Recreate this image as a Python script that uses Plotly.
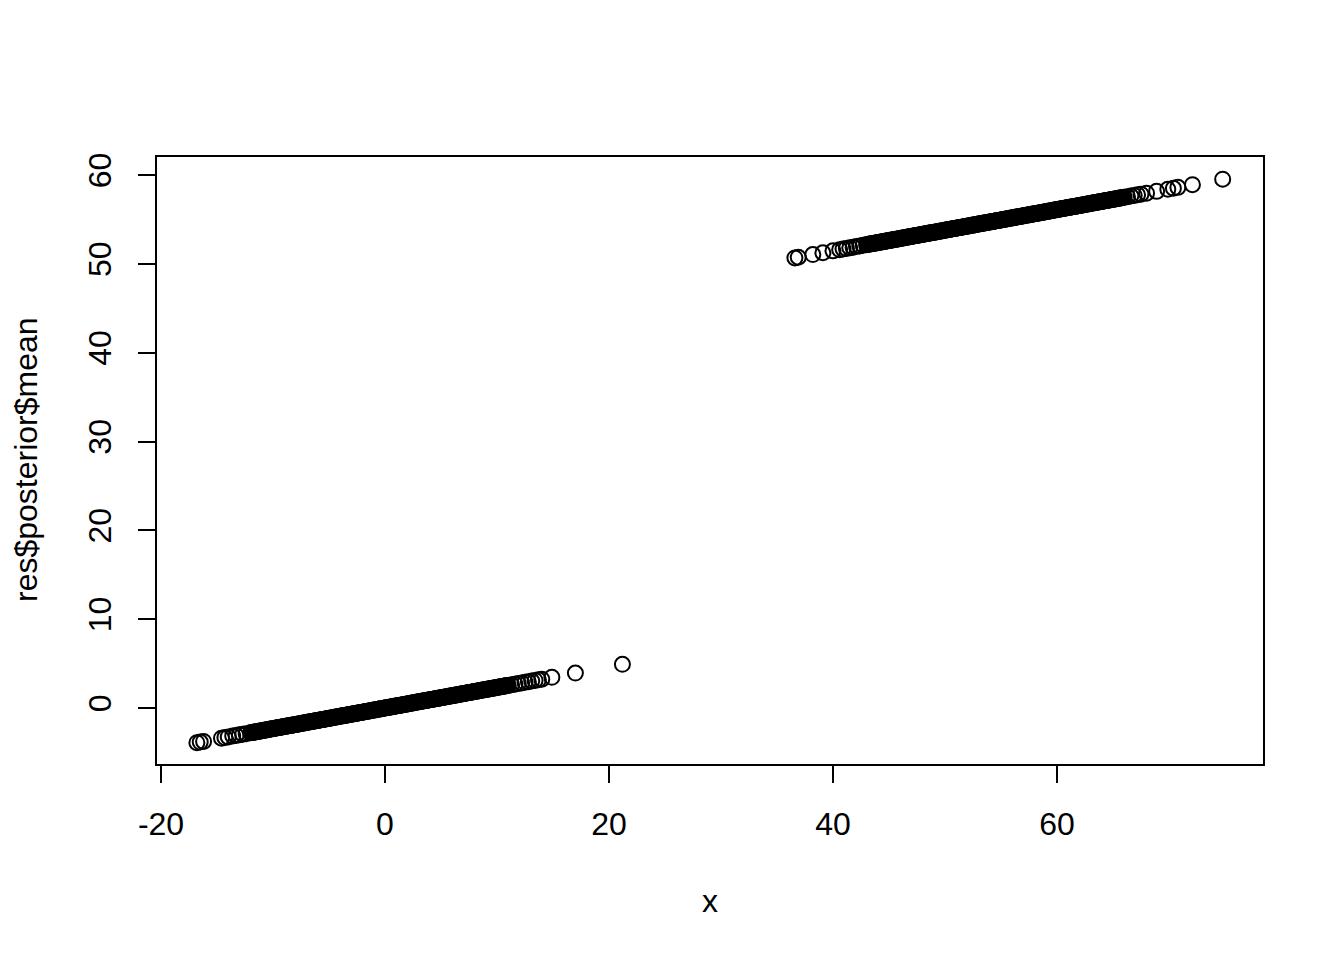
import plotly.graph_objects as go

# ---- Lower cluster (values read/estimated from the picture) ----
x_low = [-16.8, -16.5, -16.2, -14.6, -14.3, -14.0, -13.6, -13.3, -13.0, -12.7, -12.4,
         -12.0, -11.8, -11.6, -11.4, -11.2, -11.0, -10.8, -10.6, -10.4, -10.2,
         -10.0, -9.8, -9.6, -9.4, -9.2, -9.0, -8.8, -8.6, -8.4, -8.2,
         -8.0, -7.8, -7.6, -7.4, -7.2, -7.0, -6.8, -6.6, -6.4, -6.2,
         -6.0, -5.8, -5.6, -5.4, -5.2, -5.0, -4.8, -4.6, -4.4, -4.2,
         -4.0, -3.8, -3.6, -3.4, -3.2, -3.0, -2.8, -2.6, -2.4, -2.2,
         -2.0, -1.8, -1.6, -1.4, -1.2, -1.0, -0.8, -0.6, -0.4, -0.2,
         0.0, 0.2, 0.4, 0.6, 0.8, 1.0, 1.2, 1.4, 1.6, 1.8,
         2.0, 2.2, 2.4, 2.6, 2.8, 3.0, 3.2, 3.4, 3.6, 3.8,
         4.0, 4.2, 4.4, 4.6, 4.8, 5.0, 5.2, 5.4, 5.6, 5.8,
         6.0, 6.2, 6.4, 6.6, 6.8, 7.0, 7.2, 7.4, 7.6, 7.8,
         8.0, 8.2, 8.4, 8.6, 8.8, 9.0, 9.2, 9.4, 9.6, 9.8,
         10.0, 10.2, 10.4, 10.6, 10.8, 11.0,
         11.3, 11.6, 11.9, 12.2, 12.5, 12.8, 13.1, 13.4, 13.7, 14.0,
         14.9, 17.0, 21.2]
y_low = [-3.90, -3.83, -3.76, -3.39, -3.32, -3.25, -3.16, -3.09, -3.02, -2.95, -2.88,
         -2.78, -2.74, -2.69, -2.64, -2.60, -2.55, -2.51, -2.46, -2.41, -2.37,
         -2.32, -2.27, -2.23, -2.18, -2.13, -2.09, -2.04, -2.00, -1.95, -1.90,
         -1.86, -1.81, -1.76, -1.72, -1.67, -1.62, -1.58, -1.53, -1.48, -1.44,
         -1.39, -1.35, -1.30, -1.25, -1.21, -1.16, -1.11, -1.07, -1.02, -0.97,
         -0.93, -0.88, -0.84, -0.79, -0.74, -0.70, -0.65, -0.60, -0.56, -0.51,
         -0.46, -0.42, -0.37, -0.32, -0.28, -0.23, -0.19, -0.14, -0.09, -0.05,
         0.00, 0.05, 0.09, 0.14, 0.19, 0.23, 0.28, 0.32, 0.37, 0.42,
         0.46, 0.51, 0.56, 0.60, 0.65, 0.70, 0.74, 0.79, 0.84, 0.88,
         0.93, 0.97, 1.02, 1.07, 1.11, 1.16, 1.21, 1.25, 1.30, 1.35,
         1.39, 1.44, 1.48, 1.53, 1.58, 1.62, 1.67, 1.72, 1.76, 1.81,
         1.86, 1.90, 1.95, 2.00, 2.04, 2.09, 2.13, 2.18, 2.23, 2.27,
         2.32, 2.37, 2.41, 2.46, 2.51, 2.55,
         2.62, 2.69, 2.76, 2.83, 2.90, 2.97, 3.04, 3.11, 3.18, 3.25,
         3.46, 3.94, 4.92]

# further points in the solid (dense) part of the lower band
x_low_dense = [-11.9, -11.7, -11.5, -11.3, -11.1, -10.9, -10.7, -10.5, -10.3, -10.1,
               -9.9, -9.7, -9.5, -9.3, -9.1, -8.9, -8.7, -8.5, -8.3, -8.1,
               -7.9, -7.7, -7.5, -7.3, -7.1, -6.9, -6.7, -6.5, -6.3, -6.1,
               -5.9, -5.7, -5.5, -5.3, -5.1, -4.9, -4.7, -4.5, -4.3, -4.1,
               -3.9, -3.7, -3.5, -3.3, -3.1, -2.9, -2.7, -2.5, -2.3, -2.1,
               -1.9, -1.7, -1.5, -1.3, -1.1, -0.9, -0.7, -0.5, -0.3, -0.1,
               0.1, 0.3, 0.5, 0.7, 0.9, 1.1, 1.3, 1.5, 1.7, 1.9,
               2.1, 2.3, 2.5, 2.7, 2.9, 3.1, 3.3, 3.5, 3.7, 3.9,
               4.1, 4.3, 4.5, 4.7, 4.9, 5.1, 5.3, 5.5, 5.7, 5.9,
               6.1, 6.3, 6.5, 6.7, 6.9, 7.1, 7.3, 7.5, 7.7, 7.9,
               8.1, 8.3, 8.5, 8.7, 8.9, 9.1, 9.3, 9.5, 9.7, 9.9,
               10.1, 10.3, 10.5, 10.7, 10.9]
y_low_dense = [-2.76, -2.71, -2.67, -2.62, -2.58, -2.53, -2.48, -2.44, -2.39, -2.34,
               -2.30, -2.25, -2.20, -2.16, -2.11, -2.06, -2.02, -1.97, -1.93, -1.88,
               -1.83, -1.79, -1.74, -1.69, -1.65, -1.60, -1.55, -1.51, -1.46, -1.42,
               -1.37, -1.32, -1.28, -1.23, -1.18, -1.14, -1.09, -1.04, -1.00, -0.95,
               -0.90, -0.86, -0.81, -0.77, -0.72, -0.67, -0.63, -0.58, -0.53, -0.49,
               -0.44, -0.39, -0.35, -0.30, -0.26, -0.21, -0.16, -0.12, -0.07, -0.02,
               0.02, 0.07, 0.12, 0.16, 0.21, 0.26, 0.30, 0.35, 0.39, 0.44,
               0.49, 0.53, 0.58, 0.63, 0.67, 0.72, 0.77, 0.81, 0.86, 0.90,
               0.95, 1.00, 1.04, 1.09, 1.14, 1.18, 1.23, 1.28, 1.32, 1.37,
               1.42, 1.46, 1.51, 1.55, 1.60, 1.65, 1.69, 1.74, 1.79, 1.83,
               1.88, 1.93, 1.97, 2.02, 2.06, 2.11, 2.16, 2.20, 2.25, 2.30,
               2.34, 2.39, 2.44, 2.48, 2.53]

# ---- Upper cluster (values read/estimated from the picture) ----
x_high = [36.6, 36.9, 38.2, 39.1, 40.0, 40.6, 40.9, 41.2, 41.5, 41.8, 42.1, 42.4, 42.7,
          43.0, 43.2, 43.4, 43.6, 43.8, 44.0, 44.2, 44.4, 44.6, 44.8,
          45.0, 45.2, 45.4, 45.6, 45.8, 46.0, 46.2, 46.4, 46.6, 46.8,
          47.0, 47.2, 47.4, 47.6, 47.8, 48.0, 48.2, 48.4, 48.6, 48.8,
          49.0, 49.2, 49.4, 49.6, 49.8, 50.0, 50.2, 50.4, 50.6, 50.8,
          51.0, 51.2, 51.4, 51.6, 51.8, 52.0, 52.2, 52.4, 52.6, 52.8,
          53.0, 53.2, 53.4, 53.6, 53.8, 54.0, 54.2, 54.4, 54.6, 54.8,
          55.0, 55.2, 55.4, 55.6, 55.8, 56.0, 56.2, 56.4, 56.6, 56.8,
          57.0, 57.2, 57.4, 57.6, 57.8, 58.0, 58.2, 58.4, 58.6, 58.8,
          59.0, 59.2, 59.4, 59.6, 59.8, 60.0, 60.2, 60.4, 60.6, 60.8,
          61.0, 61.2, 61.4, 61.6, 61.8, 62.0, 62.2, 62.4, 62.6, 62.8,
          63.0, 63.2, 63.4, 63.6, 63.8, 64.0, 64.2, 64.4, 64.6, 64.8,
          65.0, 65.2, 65.4, 65.6, 65.8, 66.0,
          66.3, 66.6, 66.9, 67.2, 67.5, 68.0, 68.9, 69.9, 70.4, 70.8, 72.1, 74.8]
y_high = [50.69, 50.76, 51.06, 51.27, 51.48, 51.62, 51.69, 51.76, 51.83, 51.90, 51.97, 52.04, 52.11,
          52.18, 52.22, 52.27, 52.32, 52.36, 52.41, 52.45, 52.50, 52.55, 52.59,
          52.64, 52.69, 52.73, 52.78, 52.83, 52.87, 52.92, 52.97, 53.01, 53.06,
          53.10, 53.15, 53.20, 53.24, 53.29, 53.34, 53.38, 53.43, 53.48, 53.52,
          53.57, 53.61, 53.66, 53.71, 53.75, 53.80, 53.85, 53.89, 53.94, 53.99,
          54.03, 54.08, 54.12, 54.17, 54.22, 54.26, 54.31, 54.36, 54.40, 54.45,
          54.50, 54.54, 54.59, 54.64, 54.68, 54.73, 54.77, 54.82, 54.87, 54.91,
          54.96, 55.01, 55.05, 55.10, 55.15, 55.19, 55.24, 55.29, 55.33, 55.38,
          55.42, 55.47, 55.52, 55.56, 55.61, 55.66, 55.70, 55.75, 55.80, 55.84,
          55.89, 55.93, 55.98, 56.03, 56.07, 56.12, 56.17, 56.21, 56.26, 56.31,
          56.35, 56.40, 56.45, 56.49, 56.54, 56.58, 56.63, 56.68, 56.72, 56.77,
          56.82, 56.86, 56.91, 56.96, 57.00, 57.05, 57.09, 57.14, 57.19, 57.23,
          57.28, 57.33, 57.37, 57.42, 57.47, 57.51,
          57.58, 57.65, 57.72, 57.79, 57.86, 57.98, 58.18, 58.42, 58.53, 58.63, 58.93, 59.55]

# further points in the solid (dense) part of the upper band
x_high_dense = [43.1, 43.3, 43.5, 43.7, 43.9, 44.1, 44.3, 44.5, 44.7, 44.9,
                45.1, 45.3, 45.5, 45.7, 45.9, 46.1, 46.3, 46.5, 46.7, 46.9,
                47.1, 47.3, 47.5, 47.7, 47.9, 48.1, 48.3, 48.5, 48.7, 48.9,
                49.1, 49.3, 49.5, 49.7, 49.9, 50.1, 50.3, 50.5, 50.7, 50.9,
                51.1, 51.3, 51.5, 51.7, 51.9, 52.1, 52.3, 52.5, 52.7, 52.9,
                53.1, 53.3, 53.5, 53.7, 53.9, 54.1, 54.3, 54.5, 54.7, 54.9,
                55.1, 55.3, 55.5, 55.7, 55.9, 56.1, 56.3, 56.5, 56.7, 56.9,
                57.1, 57.3, 57.5, 57.7, 57.9, 58.1, 58.3, 58.5, 58.7, 58.9,
                59.1, 59.3, 59.5, 59.7, 59.9, 60.1, 60.3, 60.5, 60.7, 60.9,
                61.1, 61.3, 61.5, 61.7, 61.9, 62.1, 62.3, 62.5, 62.7, 62.9,
                63.1, 63.3, 63.5, 63.7, 63.9, 64.1, 64.3, 64.5, 64.7, 64.9,
                65.1, 65.3, 65.5, 65.7, 65.9]
y_high_dense = [52.20, 52.25, 52.29, 52.34, 52.38, 52.43, 52.48, 52.52, 52.57, 52.62,
                52.66, 52.71, 52.76, 52.80, 52.85, 52.90, 52.94, 52.99, 53.03, 53.08,
                53.13, 53.17, 53.22, 53.27, 53.31, 53.36, 53.41, 53.45, 53.50, 53.54,
                53.59, 53.64, 53.68, 53.73, 53.78, 53.82, 53.87, 53.92, 53.96, 54.01,
                54.06, 54.10, 54.15, 54.19, 54.24, 54.29, 54.33, 54.38, 54.43, 54.47,
                54.52, 54.57, 54.61, 54.66, 54.70, 54.75, 54.80, 54.84, 54.89, 54.94,
                54.98, 55.03, 55.08, 55.12, 55.17, 55.22, 55.26, 55.31, 55.35, 55.40,
                55.45, 55.49, 55.54, 55.59, 55.63, 55.68, 55.73, 55.77, 55.82, 55.86,
                55.91, 55.96, 56.00, 56.05, 56.10, 56.14, 56.19, 56.24, 56.28, 56.33,
                56.38, 56.42, 56.47, 56.51, 56.56, 56.61, 56.65, 56.70, 56.75, 56.79,
                56.84, 56.89, 56.93, 56.98, 57.02, 57.07, 57.12, 57.16, 57.21, 57.26,
                57.30, 57.35, 57.40, 57.44, 57.49]

x_ticks = [-20, 0, 20, 40, 60]
y_ticks = [0, 10, 20, 30, 40, 50, 60]

FONT = "Liberation Sans, Arial, Helvetica, sans-serif"
FS = 32

xs = x_low + x_low_dense + x_high + x_high_dense
ys = y_low + y_low_dense + y_high + y_high_dense

fig = go.Figure()
fig.add_trace(go.Scatter(
    x=xs, y=ys, mode="markers",
    marker=dict(symbol="circle-open", size=15, color="black",
                line=dict(color="black", width=2)),
    showlegend=False, hoverinfo="skip"))

fig.update_layout(
    width=1328, height=944,
    margin=dict(l=149, r=73, t=149, b=188, pad=0),
    paper_bgcolor="white", plot_bgcolor="white",
    font=dict(family=FONT, size=FS, color="black"),
    xaxis=dict(range=[-20.36, 78.4], tickvals=x_ticks, ticktext=[str(v) for v in x_ticks],
               showgrid=False, zeroline=False, showline=True, mirror=True,
               linecolor="black", linewidth=2, ticks="outside", ticklen=17,
               tickwidth=2, tickcolor="black", ticklabelstandoff=14,
               tickfont=dict(size=FS, family=FONT)),
    yaxis=dict(range=[-6.3, 62.05], tickvals=y_ticks, ticktext=[str(v) for v in y_ticks],
               showgrid=False, zeroline=False, showline=True, mirror=True,
               linecolor="black", linewidth=2, ticks="outside", ticklen=17,
               tickwidth=2, tickcolor="black", tickangle=-90, ticklabelstandoff=14,
               tickfont=dict(size=FS, family=FONT)),
    annotations=[
        dict(text="x", xref="paper", yref="paper", x=0.5, y=-(901 - 764) / 607,
             xanchor="center", yanchor="middle", showarrow=False,
             font=dict(size=FS, family=FONT)),
        dict(text="res$posterior$mean", xref="paper", yref="paper",
             x=(26 - 157) / 1106, y=(764 - 460) / 607, textangle=-90,
             xanchor="center", yanchor="middle", showarrow=False,
             font=dict(size=FS, family=FONT)),
    ],
)

fig.write_html("out.html")
